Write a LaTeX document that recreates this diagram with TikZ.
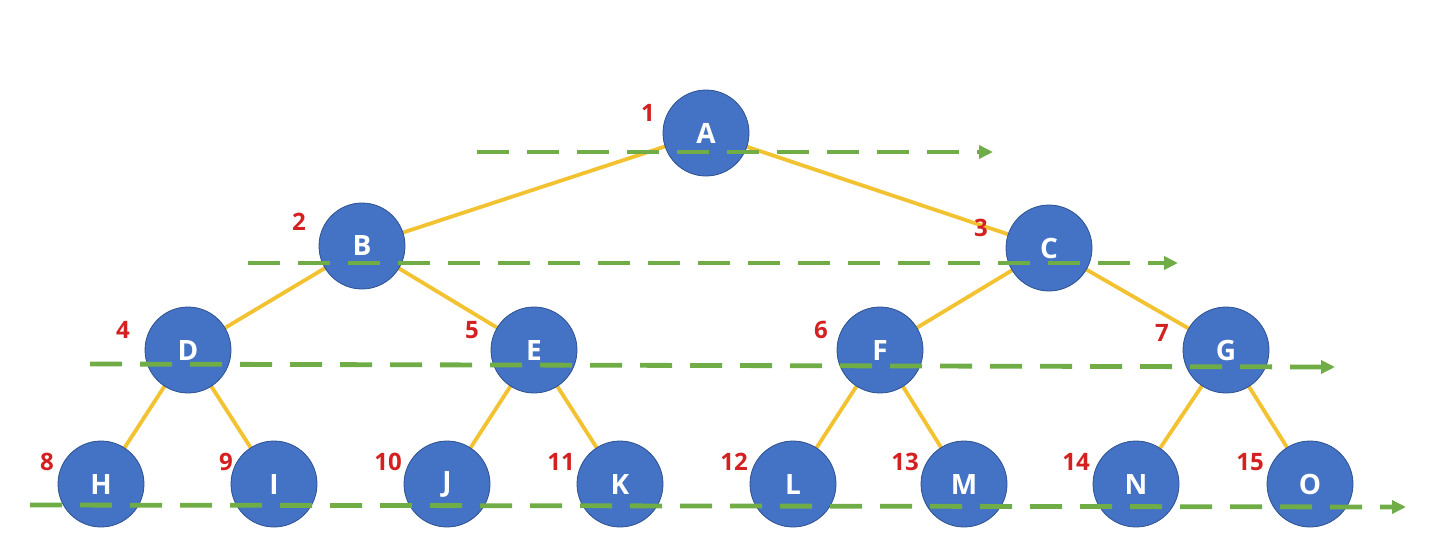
\documentclass[tikz,border=0pt]{standalone}
\usepackage{fontspec}
\setmainfont{Open Sans}
\usetikzlibrary{arrows.meta}
\definecolor{nodeblue}{HTML}{4472C4}
\definecolor{nodeedge}{HTML}{2F528F}
\definecolor{edgeyellow}{HTML}{F2C230}
\definecolor{dashgreen}{HTML}{70AD47}
\definecolor{numred}{HTML}{D42020}
\begin{document}
\begin{tikzpicture}[x=1pt,y=-1pt,
  tnode/.style={circle,fill=nodeblue,draw=nodeedge,line width=0.8pt,minimum size=86pt,inner sep=0pt,text=white,font=\fontsize{28}{30}\selectfont\bfseries},
  tedge/.style={draw=edgeyellow,line width=3.8pt},
  levelline/.style={draw=dashgreen,line width=4.8pt,dash pattern=on 32pt off 18pt,-{Triangle[length=14pt,width=13pt]}},
  numlab/.style={text=numred,font=\fontsize{24}{26}\selectfont\bfseries,inner sep=0pt}]
\useasboundingbox (0,0) rectangle (1434,544);
% edges first (behind)
\coordinate (pA) at (706,133);
\coordinate (pB) at (362,246);
\coordinate (pC) at (1049,248);
\coordinate (pD) at (188,350);
\coordinate (pE) at (534,350);
\coordinate (pF) at (880,350);
\coordinate (pG) at (1226,350);
\coordinate (pH) at (101,484);
\coordinate (pI) at (274,484);
\coordinate (pJ) at (447,484);
\coordinate (pK) at (620,484);
\coordinate (pL) at (793,484);
\coordinate (pM) at (964,484);
\coordinate (pN) at (1136,484);
\coordinate (pO) at (1310,484);
\foreach \a/\b in {A/B,A/C,B/D,B/E,C/F,C/G,D/H,D/I,E/J,E/K,F/L,F/M,G/N,G/O}
  \draw[tedge] (p\a) -- (p\b);
% nodes
\foreach \n in {A,B,C,D,E,F,G,H,I,J,K,L,M,N,O}
  \node[tnode] (\n) at (p\n) {\n};
% numbers
\node[numlab] (n1) at (648,113) {1};
\node[numlab] (n2) at (299,222) {2};
\node[numlab] (n3) at (981,228) {3};
\node[numlab] (n4) at (123,330) {4};
\node[numlab] (n5) at (472,330) {5};
\node[numlab] (n6) at (821,330) {6};
\node[numlab] (n7) at (1162,333) {7};
\node[numlab] (n8) at (47,462) {8};
\node[numlab] (n9) at (226,462) {9};
\node[numlab] (n10) at (388,462) {10};
\node[numlab] (n11) at (561,462) {11};
\node[numlab] (n12) at (734,462) {12};
\node[numlab] (n13) at (905,462) {13};
\node[numlab] (n14) at (1076,462) {14};
\node[numlab] (n15) at (1250,462) {15};
% level lines
\coordinate (s1) at (477,152); \coordinate (e1) at (993,152);
\coordinate (s2) at (248,263); \coordinate (e2) at (1178,263);
\coordinate (s3) at (90,364); \coordinate (e3) at (1335,367);
\coordinate (s4) at (30,505); \coordinate (e4) at (1406,507);
\draw[levelline] (s1) -- (e1);
\draw[levelline] (s2) -- (e2);
\draw[levelline] (s3) -- (e3);
\draw[levelline] (s4) -- (e4);
\end{tikzpicture}
\end{document}
